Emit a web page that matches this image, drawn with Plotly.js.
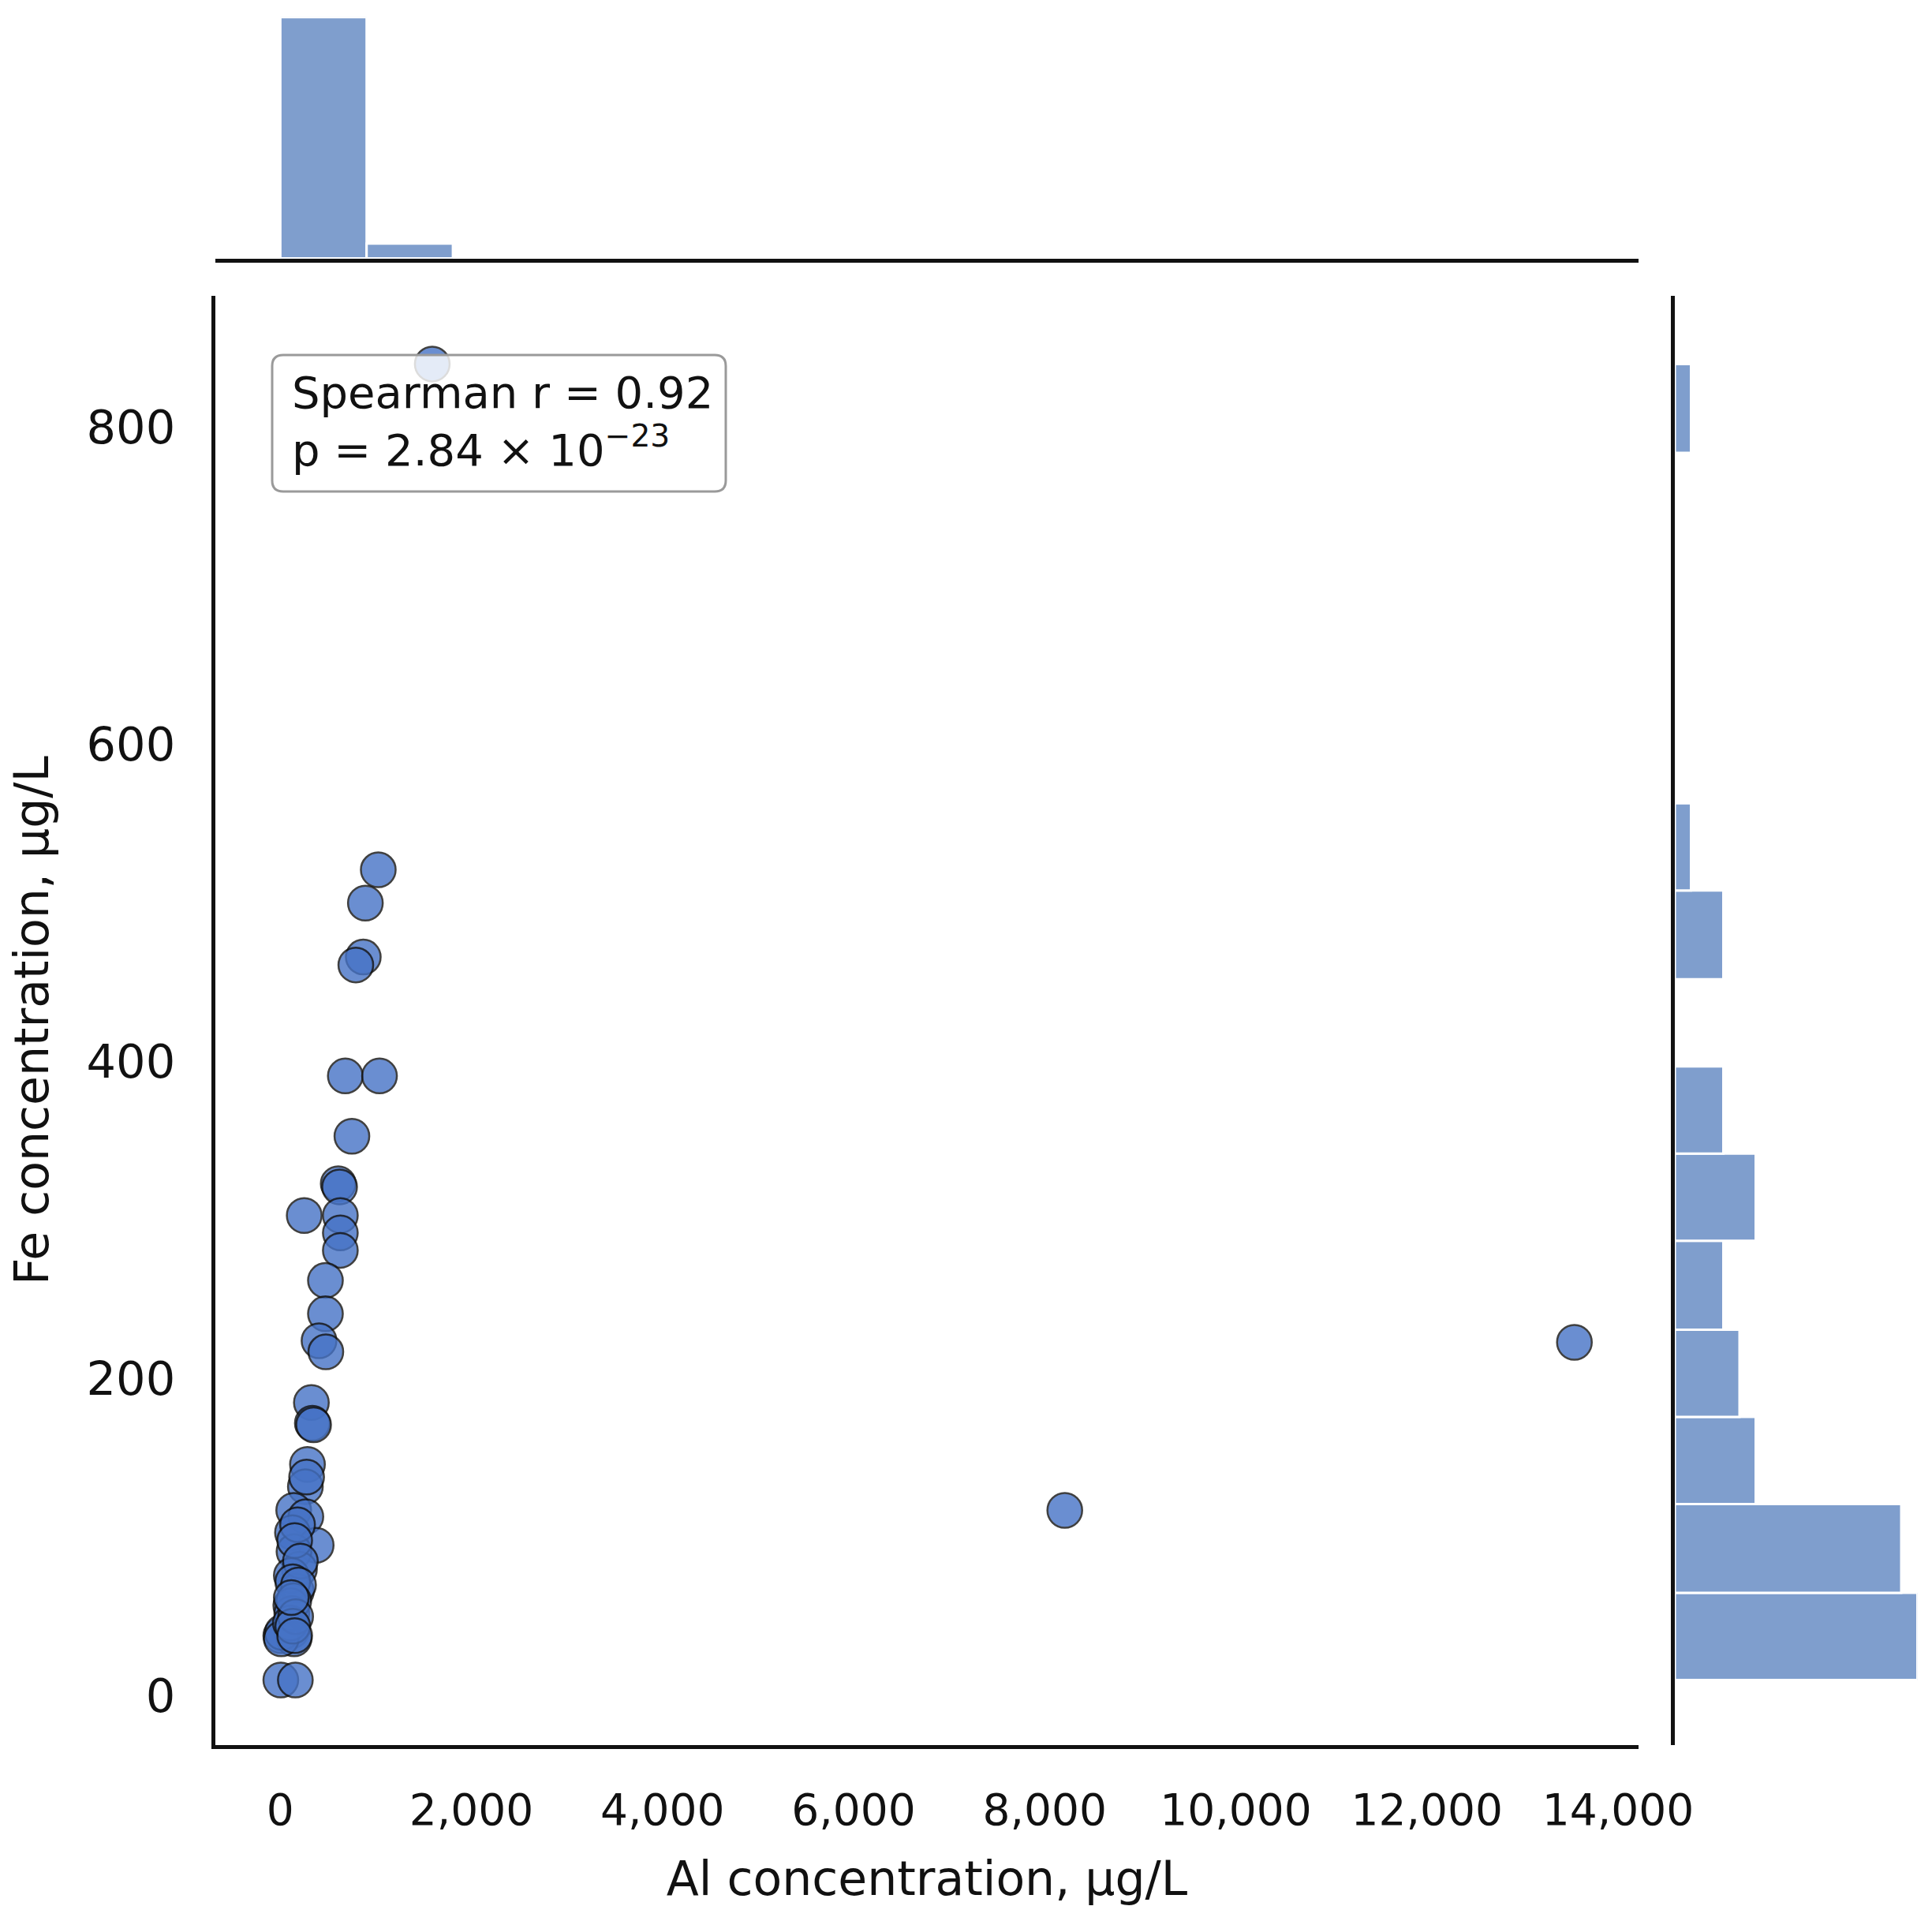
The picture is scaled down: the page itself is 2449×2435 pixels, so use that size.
<!DOCTYPE html>
<html>
<head>
<meta charset="utf-8">
<script src="https://cdn.plot.ly/plotly-3.0.1.min.js"></script>
<style>
  html, body { margin: 0; padding: 0; background: #ffffff; }
  #chart { width: 2449px; height: 2435px; }
</style>
</head>
<body>
<div id="chart"></div>
<script>
// Al vs Fe concentrations (µg/L), one entry per sample
const alConc = [
  1590, 1025, 890, 868, 790, 680, 1038, 749, 606, 620,
  250, 628, 628, 628, 472, 472, 405, 476, 325, 13544,
  335, 348, 284, 262, 275,
  140, 267, 127, 375, 143, 200, 115, 168, 8210, 180,
  150, 210, 130, 190,
  110, 116, 5, 143, 5, 157, 20, 10, 120, 140,
  105, 160, 130, 150, 115
];
const feConc = [
  840, 521, 500, 466, 461, 391, 391, 353, 323, 321,
  303, 303, 292, 281, 262, 241, 224, 217, 185, 223,
  172, 171, 146, 132, 138,
  117, 113, 103, 95, 91, 80, 76, 66, 117, 108,
  98, 85, 72, 70,
  57, 41, 38, 36, 10, 10, 40, 36, 52, 60,
  46, 50, 44, 38, 62
];

// Marginal histogram of Al (bin edges and counts)
const alBinEdges = [0, 903, 1806, 2709, 3612, 4515, 5418, 6321, 7224, 8127,
                    9030, 9933, 10836, 11739, 12642, 13545];
const alCounts = [49, 3, 0, 0, 0, 0, 0, 0, 0, 0, 0, 0, 0, 0, 0];

// Marginal histogram of Fe (bin edges and counts)
const feBinEdges = [10, 65, 121, 176, 231, 287, 342, 397, 452, 508,
                    563, 618, 674, 729, 784, 840];
const feCounts = [15, 14, 5, 4, 3, 5, 3, 0, 3, 1, 0, 0, 0, 0, 1];

// Axis ticks
const alTicks = [0, 2000, 4000, 6000, 8000, 10000, 12000, 14000];
const feTicks = [0, 200, 400, 600, 800];

// Correlation summary
const spearmanR = '0.92';
const pMantissa = '2.84';
const pExponent = '−23';

const W = 2449, H = 2435;
const PX = v => v / W;
const PY = v => 1 - v / H;

const centers = e => e.slice(0, -1).map((v, i) => (v + e[i + 1]) / 2);
const widths = e => e.slice(0, -1).map((v, i) => e[i + 1] - v);

const FONT = 'DejaVu Sans, Liberation Sans, sans-serif';
const INK = '#111111';
const POINT = '#4673c6';
const BAR = '#7f9ecd';

const scatter = {
  type: 'scatter', mode: 'markers',
  x: alConc, y: feConc,
  xaxis: 'x', yaxis: 'y',
  marker: { size: 44, color: POINT, opacity: 0.8, line: { color: INK, width: 2.5 } },
  hoverinfo: 'skip'
};

const topHist = {
  type: 'bar',
  x: centers(alBinEdges), y: alCounts, width: widths(alBinEdges),
  xaxis: 'x2', yaxis: 'y2',
  marker: { color: BAR, line: { color: '#ffffff', width: 3 } },
  hoverinfo: 'skip'
};

const rightHist = {
  type: 'bar', orientation: 'h',
  y: centers(feBinEdges), x: feCounts, width: widths(feBinEdges),
  xaxis: 'x3', yaxis: 'y3',
  marker: { color: BAR, line: { color: '#ffffff', width: 3 } },
  hoverinfo: 'skip'
};

const xRange = [-680, 14215];
const yRange = [-31, 883];
const mainX = [PX(273), PX(2077)];
const mainY = [PY(2212), PY(375)];

function roundedBox(l, t, r, b, rad) {
  const X = v => (v / W).toFixed(5), Y = v => (1 - v / H).toFixed(5);
  return `M${X(l + rad)},${Y(t)} L${X(r - rad)},${Y(t)} Q${X(r)},${Y(t)} ${X(r)},${Y(t + rad)} ` +
         `L${X(r)},${Y(b - rad)} Q${X(r)},${Y(b)} ${X(r - rad)},${Y(b)} ` +
         `L${X(l + rad)},${Y(b)} Q${X(l)},${Y(b)} ${X(l)},${Y(b - rad)} ` +
         `L${X(l)},${Y(t + rad)} Q${X(l)},${Y(t)} ${X(l + rad)},${Y(t)} Z`;
}

const layout = {
  width: W, height: H,
  margin: { l: 0, r: 0, t: 0, b: 0, pad: 0 },
  paper_bgcolor: '#ffffff', plot_bgcolor: 'rgba(0,0,0,0)',
  showlegend: false,
  font: { family: FONT, color: INK, size: 54 },
  xaxis: {
    domain: mainX, range: xRange, anchor: 'y',
    showline: true, linecolor: INK, linewidth: 5,
    showgrid: false, zeroline: false,
    ticks: 'outside', ticklen: 30, tickcolor: 'rgba(0,0,0,0)',
    tickvals: alTicks, tickformat: ',d',
    tickfont: { size: 55, color: INK },
    title: { text: 'Al concentration, µg/L', font: { size: 60, color: INK }, standoff: 36 }
  },
  yaxis: {
    domain: mainY, range: yRange, anchor: 'x',
    showline: true, linecolor: INK, linewidth: 5,
    showgrid: false, zeroline: false,
    ticks: 'outside', ticklen: 34, tickcolor: 'rgba(0,0,0,0)',
    tickvals: feTicks,
    tickfont: { size: 59, color: INK },
    title: { text: 'Fe concentration, µg/L', font: { size: 60, color: INK }, standoff: 30 }
  },
  xaxis2: {
    domain: mainX, range: xRange, anchor: 'y2',
    showline: true, linecolor: INK, linewidth: 5,
    showgrid: false, zeroline: false, showticklabels: false, ticks: ''
  },
  yaxis2: {
    domain: [PY(327.5), PY(21.7)], range: [0, 49], anchor: 'x2',
    visible: false
  },
  xaxis3: {
    domain: [PX(2123), PX(2430.5)], range: [0, 15], anchor: 'y3',
    visible: false
  },
  yaxis3: {
    domain: mainY, range: yRange, anchor: 'x3',
    showline: true, linecolor: INK, linewidth: 5,
    showgrid: false, zeroline: false, showticklabels: false, ticks: ''
  },
  shapes: [{
    type: 'path', xref: 'paper', yref: 'paper', layer: 'above',
    path: roundedBox(345, 450, 920, 623, 14),
    fillcolor: 'rgba(255,255,255,0.82)',
    line: { color: '#9a9a9a', width: 3 }
  }],
  annotations: [{
    xref: 'paper', yref: 'paper',
    x: PX(368), y: PY(534), xanchor: 'left', yanchor: 'middle', align: 'left',
    showarrow: false,
    text: `Spearman r = ${spearmanR}<br>p = ${pMantissa} × 10<sup>${pExponent}</sup>`,
    font: { family: FONT, size: 56, color: INK }
  }]
};

Plotly.newPlot('chart', [scatter, topHist, rightHist], layout, { staticPlot: true, displayModeBar: false });
</script>
</body>
</html>
